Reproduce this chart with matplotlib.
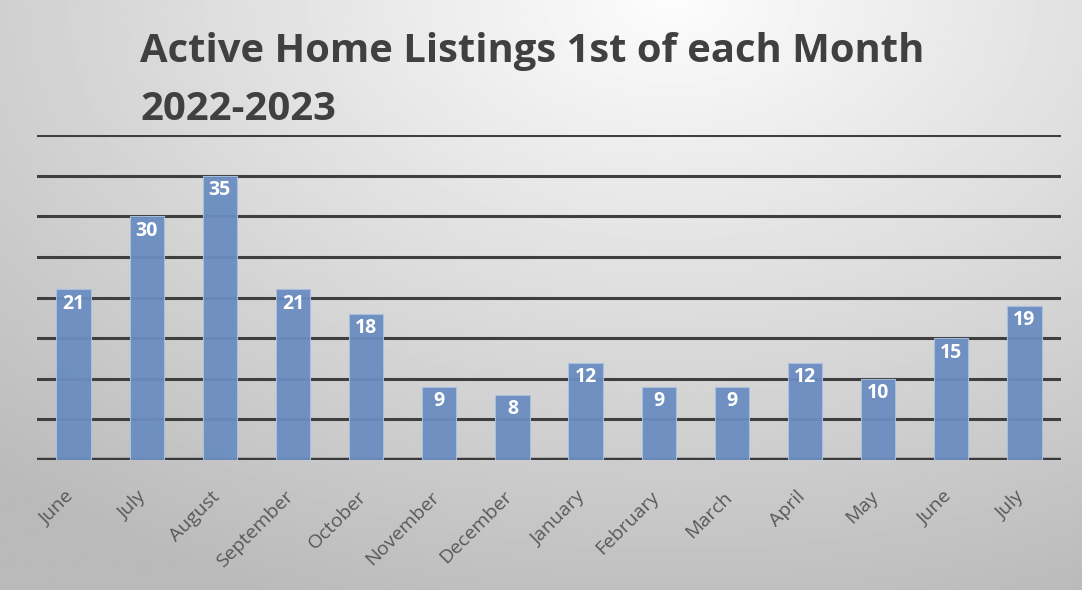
import numpy as np
import matplotlib.pyplot as plt
import matplotlib.transforms as mtransforms

months = ["June", "July", "August", "September", "October", "November", "December",
          "January", "February", "March", "April", "May", "June", "July"]
listings = [21, 30, 35, 21, 18, 9, 8, 12, 9, 9, 12, 10, 15, 19]
title_lines = ["Active Home Listings 1st of each Month", "2022-2023"]

W, H = 1082, 590
fig = plt.figure(figsize=(W / 100, H / 100), dpi=100)

# gray gradient background, lighter near the top right
bg = fig.add_axes([0, 0, 1, 1], zorder=0)
yy, xx = np.mgrid[0:1:300j, 0:1:500j]
d = np.sqrt(((xx - 0.62) * 1.2) ** 2 + ((yy - 0.0) * 1.0) ** 2)
shade = 0.99 - 0.26 * np.clip(d, 0, 1.1) / 1.1
bg.imshow(shade, cmap="gray", vmin=0, vmax=1, aspect="auto", extent=[0, 1, 1, 0])
bg.axis("off")

ax = fig.add_axes([37 / W, 1 - 460 / H, (1061 - 37) / W, (460 - 135) / H], zorder=1)
ax.patch.set_alpha(0)
x = np.arange(len(months))
for v in range(5, 45, 5):
    ax.axhline(v, color="#3f3f3f", lw=2.2, zorder=1)
ax.axhline(0, color="#3a3a3a", lw=3.2, zorder=1)

bars = ax.bar(x, listings, width=0.47, color="#6a8dc0", edgecolor="#a9c0e2",
              linewidth=0.8, alpha=0.95, zorder=2)
for xi, v in zip(x, listings):
    ax.text(xi, v - 0.55, str(v), ha="center", va="top", color="white",
            fontsize=14, fontweight="bold", family="Open Sans", zorder=3)

ax.set_xlim(-0.5, len(months) - 0.5)
ax.set_ylim(0, 40)
ax.set_yticks([])
ax.set_xticks(x)
ax.set_xticklabels(months, rotation=45, ha="right", rotation_mode="anchor",
                   color="#595959", fontsize=14, family="Open Sans")
ax.tick_params(axis="x", length=0, pad=20)
shift = mtransforms.ScaledTranslation(-9 / 100, 0, fig.dpi_scale_trans)
for lbl in ax.get_xticklabels():
    lbl.set_transform(lbl.get_transform() + shift)
for s in ax.spines.values():
    s.set_visible(False)

fig.text(140 / W, 1 - 62 / H, title_lines[0], ha="left", va="baseline", fontsize=28.8,
         fontweight="bold", color="#404040", family="Open Sans")
fig.text(140 / W, 1 - 120 / H, title_lines[1], ha="left", va="baseline", fontsize=28.8,
         fontweight="bold", color="#404040", family="Open Sans")

fig.savefig("out.png", dpi=100)
